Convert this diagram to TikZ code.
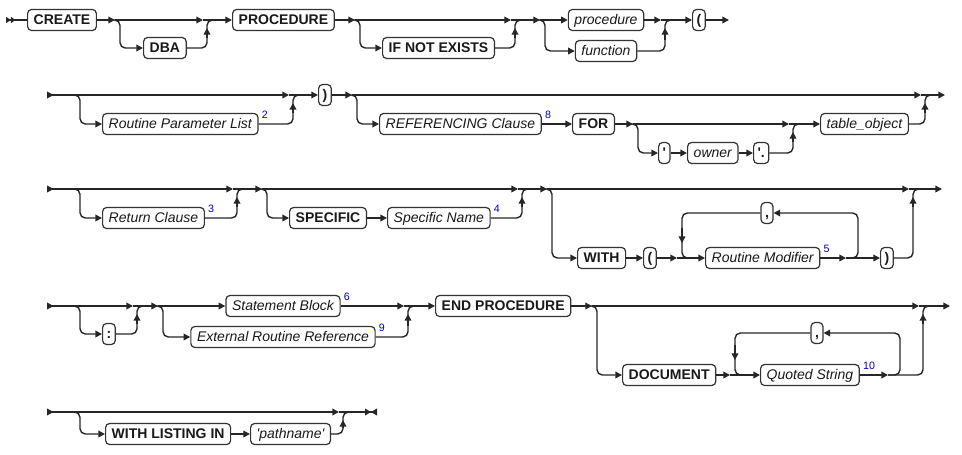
\documentclass[tikz,border=0pt]{standalone}
\usepackage{fontspec}
\setsansfont{Liberation Sans}
\usetikzlibrary{arrows.meta, calc}
\tikzset{%
    ln/.style={line width=1.05pt, draw=black!85},
    lna/.style={ln, -{Triangle[length=5pt, width=5pt]}},
    lnio/.style={ln, {Triangle[length=5pt, width=5pt, reversed]}-{Triangle[length=5pt, width=5pt]}},
    lnstart/.style={ln, {Triangle[length=3.6pt, width=4.6pt, reversed]Triangle[length=3.6pt, width=4.6pt, reversed]}-},
    lnend/.style={ln, -{Triangle[length=4.5pt, width=5pt]Triangle[length=4.5pt, width=5pt, reversed]}},
    rc/.style={rounded corners=4pt},
    kw/.style={draw=black!80, line width=0.9pt, rounded corners=3pt, fill=white,
        minimum height=15.75pt, inner xsep=4.6pt, inner ysep=0pt,
        text height=7.6pt, text depth=0.4pt, text=black!90,
        font=\sffamily\bfseries\fontsize{10.5}{12}\selectfont},
    nt/.style={kw, font=\sffamily\itshape\fontsize{10.5}{12}\selectfont},
    pc/.style={kw, inner xsep=3pt},
    fn/.style={anchor=base west, inner sep=0pt, text=blue!75!black,
        font=\sffamily\fontsize{8}{9}\selectfont},
}

\begin{document}
\begin{tikzpicture}[x=0.75pt, y=-0.75pt]
    \useasboundingbox (0,0) rectangle (962,454);
    % first line
    \node[kw, anchor=west] (create) at (27,20) {CREATE};
    \node[kw, anchor=west] (dba) at (143,48) {DBA};
    \node[kw, anchor=west] (procedure) at (232,20) {PROCEDURE};
    \node[kw, anchor=west] (ifnot) at (382,48) {IF NOT EXISTS};
    \node[nt] (proc) at (606,20) {procedure};
    \node[nt] (func) at (606,51) {function};
    \node[pc, anchor=west] (lpar) at (692,20) {(};
    \coordinate (in1) at (6,20);
    \coordinate (s1) at (115,20);
    \coordinate (j1) at (207,20);
    \coordinate (s2) at (355,20);
    \coordinate (j2) at (515,20);
    \coordinate (s3) at (540,20);
    \coordinate (j3) at (665,20);
    \coordinate (out1) at (729,20);
    \draw[lnstart] (in1) -- (create);
    \draw[lna] (create) -- (s1);
    \draw[lna] (s1) -- ($(j1)+(-4,0)$);
    \draw[lna, rc] (s1) -- ++(5,0) |- (dba);
    \draw[ln, rc] (dba) -| (j1) -- ++(5,0);
    \draw[lna] ($(j1)+(0,18)$) -- ($(j1)+(0,8)$);
    \draw[lna] ($(j1)+(-4,0)$) -- (procedure);
    \draw[lna] (procedure) -- (s2);
    \draw[lna] (s2) -- ($(j2)+(-4,0)$);
    \draw[lna, rc] (s2) -- ++(5,0) |- (ifnot);
    \draw[ln, rc] (ifnot) -| (j2) -- ++(5,0);
    \draw[lna] ($(j2)+(0,18)$) -- ($(j2)+(0,8)$);
    \draw[lna] ($(j2)+(-4,0)$) -- (s3);
    \draw[lna] (s3) -- (proc);
    \draw[lna, rc] (s3) -- ++(5,0) |- (func);
    \draw[lna] (proc) -- ($(j3)+(-4,0)$);
    \draw[ln, rc] (func) -| (j3) -- ++(5,0);
    \draw[lna] ($(j3)+(0,20)$) -- ($(j3)+(0,8)$);
    \draw[lna] ($(j3)+(-4,0)$) -- (lpar);
    \draw[lna] (lpar) -- (out1);

    % second line
    \node[nt, anchor=west] (rpl) at (102,124) {Routine Parameter List};
    \node[pc, anchor=west] (rpar) at (318,95) {)};
    \node[nt, anchor=west] (refcl) at (379,124) {REFERENCING Clause};
    \node[kw, anchor=west] (for) at (572,124) {FOR};
    \node[pc, anchor=west] (q1) at (658,153) {\textquotesingle};
    \node[nt, anchor=west] (owner) at (687,153) {owner};
    \node[pc, anchor=west] (q2) at (753,153) {\textquotesingle.};
    \node[nt, anchor=west] (tobj) at (820,124) {table\_object};
    \node[fn] at ($(rpl.north east)+(3,6)$) {2};
    \node[fn] at ($(refcl.north east)+(3,6)$) {8};
    \coordinate (in2) at (47,95);
    \coordinate (s4) at (75,95);
    \coordinate (j4) at (293,95);
    \coordinate (s5) at (352,95);
    \coordinate (j5) at (925,95);
    \coordinate (s6) at (633,124);
    \coordinate (j6) at (793,124);
    \coordinate (out2) at (945,95);
    \draw[lnio] (in2) -- ($(j4)+(-4,0)$);
    \draw[lna, rc] (s4) -- ++(5,0) |- (rpl);
    \draw[ln, rc] (rpl) -| (j4) -- ++(5,0);
    \draw[lna] ($(j4)+(0,18)$) -- ($(j4)+(0,8)$);
    \draw[lna] ($(j4)+(-4,0)$) -- (rpar);
    \draw[lna] (rpar) -- (s5);
    \draw[lna] (s5) -- ($(j5)+(-4,0)$);
    \draw[lna, rc] (s5) -- ++(5,0) |- (refcl);
    \draw[lna] (refcl) -- (for);
    \draw[lna] (for) -- (s6);
    \draw[lna] (s6) -- ($(j6)+(-4,0)$);
    \draw[lna, rc] (s6) -- ++(5,0) |- (q1);
    \draw[lna] (q1) -- (owner);
    \draw[lna] (owner) -- (q2);
    \draw[ln, rc] (q2) -| (j6) -- ++(5,0);
    \draw[lna] ($(j6)+(0,18)$) -- ($(j6)+(0,8)$);
    \draw[lna] ($(j6)+(-4,0)$) -- (tobj);
    \draw[ln, rc] (tobj) -| (j5) -- ++(5,0);
    \draw[lna] ($(j5)+(0,18)$) -- ($(j5)+(0,8)$);
    \draw[lna] ($(j5)+(-4,0)$) -- (out2);

    % third line
    \node[nt, anchor=west] (retcl) at (102,218) {Return Clause};
    \node[kw, anchor=west] (spec) at (289,218) {SPECIFIC};
    \node[nt, anchor=west] (specname) at (387,218) {Specific Name};
    \node[kw, anchor=west] (with) at (577,258) {WITH};
    \node[pc, anchor=west] (lpar2) at (643,258) {(};
    \node[nt, anchor=west] (rmod) at (705,258) {Routine Modifier};
    \node[pc] (comma1) at (767,213) {,};
    \node[pc, anchor=west] (rpar2) at (880,258) {)};
    \node[fn] at ($(retcl.north east)+(3,6)$) {3};
    \node[fn] at ($(specname.north east)+(3,6)$) {4};
    \node[fn] at ($(rmod.north east)+(3,6)$) {5};
    \coordinate (in3) at (47,189);
    \coordinate (s7) at (75,189);
    \coordinate (j7) at (237,189);
    \coordinate (s8) at (262,189);
    \coordinate (j8) at (522,189);
    \coordinate (s9) at (547,189);
    \coordinate (j9) at (913,189);
    \coordinate (lp) at (677,258);
    \coordinate (lq) at (846,258);
    \coordinate (out3) at (942,189);
    \draw[lnio] (in3) -- ($(j7)+(-4,0)$);
    \draw[lna, rc] (s7) -- ++(5,0) |- (retcl);
    \draw[ln, rc] (retcl) -| (j7) -- ++(5,0);
    \draw[lna] ($(j7)+(0,18)$) -- ($(j7)+(0,8)$);
    \draw[lna] ($(j7)+(-4,0)$) -- (s8);
    \draw[lna] (s8) -- ($(j8)+(-4,0)$);
    \draw[lna, rc] (s8) -- ++(5,0) |- (spec);
    \draw[lna] (spec) -- (specname);
    \draw[ln, rc] (specname) -| (j8) -- ++(5,0);
    \draw[lna] ($(j8)+(0,18)$) -- ($(j8)+(0,8)$);
    \draw[lna] ($(j8)+(-4,0)$) -- (s9);
    \draw[lna] (s9) -- ($(j9)+(-4,0)$);
    \draw[lna, rc] (s9) -- ++(5,0) |- (with);
    \draw[lna] (with) -- (lpar2);
    \draw[lna] (lpar2) -- (lp);
    \draw[lna] (lp) -- (rmod);
    \draw[lna] (rmod) -- (lq);
    \draw[lna] (lq) -- (rpar2);
    \draw[lna, rc] (lq) -- ++(12,0) |- (comma1);
    \draw[ln, rc] (comma1) -| ($(lp)+(5,0)$) -- ++(5,0);
    \draw[lna] ($(lp)+(5,-30)$) -- ($(lp)+(5,-15)$);
    \draw[ln, rc] (rpar2) -| (j9) -- ++(5,0);
    \draw[lna] ($(j9)+(0,18)$) -- ($(j9)+(0,8)$);
    \draw[lna] ($(j9)+(-4,0)$) -- (out3);

    % fourth line
    \node[pc, anchor=west] (colon) at (102,334) {:};
    \node[nt] (stmt) at (283,306) {Statement Block};
    \node[nt] (ext) at (283,337) {External Routine Reference};
    \node[kw, anchor=west] (endproc) at (435,306) {END PROCEDURE};
    \node[kw, anchor=west] (doc) at (622,375) {DOCUMENT};
    \node[nt, anchor=west] (qstr) at (760,375) {Quoted String};
    \node[pc] (comma2) at (817,333) {,};
    \node[fn] at ($(stmt.north east)+(3,6)$) {6};
    \node[fn] at ($(ext.north east)+(3,6)$) {9};
    \node[fn] at ($(qstr.north east)+(3,6)$) {10};
    \coordinate (in4) at (47,306);
    \coordinate (s10) at (75,306);
    \coordinate (j10) at (137,306);
    \coordinate (s11) at (158,306);
    \coordinate (j11) at (408,306);
    \coordinate (s12) at (592,306);
    \coordinate (j12) at (923,306);
    \coordinate (lp2) at (730,375);
    \coordinate (lq2) at (888,375);
    \coordinate (out4) at (950,306);
    \draw[lnio] (in4) -- ($(j10)+(-4,0)$);
    \draw[lna, rc] (s10) -- ++(5,0) |- (colon);
    \draw[ln, rc] (colon) -| (j10) -- ++(5,0);
    \draw[lna] ($(j10)+(0,18)$) -- ($(j10)+(0,8)$);
    \draw[lna] ($(j10)+(-4,0)$) -- (s11);
    \draw[lna] (s11) -- (stmt);
    \draw[lna, rc] (s11) -- ++(5,0) |- (ext);
    \draw[lna] (stmt) -- ($(j11)+(-4,0)$);
    \draw[ln, rc] (ext) -| (j11) -- ++(5,0);
    \draw[lna] ($(j11)+(0,20)$) -- ($(j11)+(0,8)$);
    \draw[lna] ($(j11)+(-4,0)$) -- (endproc);
    \draw[lna] (endproc) -- (s12);
    \draw[lna] (s12) -- ($(j12)+(-4,0)$);
    \draw[lna, rc] (s12) -- ++(5,0) |- (doc);
    \draw[lna] (doc) -- (lp2);
    \draw[lna] (lp2) -- (qstr);
    \draw[lna] (qstr) -- (lq2);
    \draw[ln, rc] (lq2) -| (j12) -- ++(5,0);
    \draw[lna, rc] (lq2) -- ++(12,0) |- (comma2);
    \draw[ln, rc] (comma2) -| ($(lp2)+(5,0)$) -- ++(5,0);
    \draw[lna] ($(lp2)+(5,-30)$) -- ($(lp2)+(5,-15)$);
    \draw[lna] ($(j12)+(0,18)$) -- ($(j12)+(0,8)$);
    \draw[lna] ($(j12)+(-4,0)$) -- (out4);

    % last line
    \node[kw, anchor=west] (wli) at (105,434) {WITH LISTING IN};
    \node[nt, anchor=west] (pathn) at (250,434) {\textquotesingle pathname\textquotesingle};
    \coordinate (in5) at (47,412);
    \coordinate (s13) at (75,412);
    \coordinate (j13) at (343,412);
    \coordinate (fin) at (377,412);
    \draw[lnio] (in5) -- ($(j13)+(-4,0)$);
    \draw[lna, rc] (s13) -- ++(5,0) |- (wli);
    \draw[lna] (wli) -- (pathn);
    \draw[ln, rc] (pathn) -| (j13) -- ++(5,0);
    \draw[lna] ($(j13)+(0,16)$) -- ($(j13)+(0,8)$);
    \draw[lnend] ($(j13)+(-4,0)$) -- (fin);
\end{tikzpicture}
\end{document}
